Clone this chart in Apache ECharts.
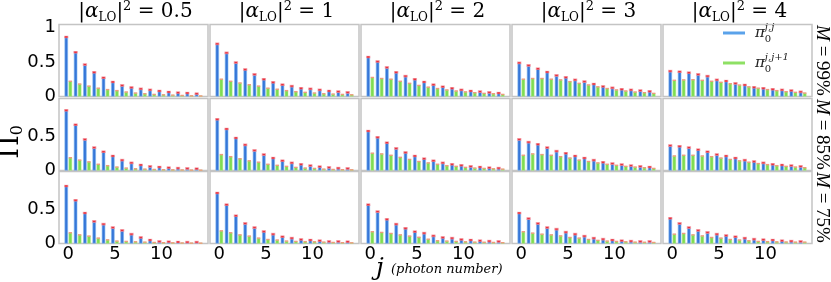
<!DOCTYPE html>
<html><head><meta charset="utf-8">
<script src="https://cdn.jsdelivr.net/npm/echarts@6/dist/echarts.min.js"></script>
<style>html,body{margin:0;padding:0;background:#fff}#c{width:831px;height:282px}</style>
</head><body><div id="c"></div>
<script>
// ---- data ----
const photonNumbers = [0,1,2,3,4,5,6,7,8,9,10,11,12,13,14];
const xTickLabels = [0,5,10];
const yTickLabelsTop = [0,0.5,1];
const yTickLabelsOther = [0,0.5];
const alphaLO = ['0.5','1','2','3','4'];
const fidelityM = ['99%','85%','75%'];

// M = 99%
const jj_M99_a05 = [0.86,0.64,0.46,0.35,0.27,0.21,0.16,0.13,0.11,0.095,0.08,0.065,0.055,0.05,0.04];
const jj1_M99_a05 = [0.22,0.18,0.15,0.12,0.10,0.085,0.065,0.05,0.04,0.03,0.025,0.02,0.015,0.01,0.008];
const jj_M99_a1 = [0.76,0.63,0.49,0.39,0.32,0.25,0.205,0.17,0.15,0.12,0.11,0.095,0.08,0.07,0.06];
const jj1_M99_a1 = [0.25,0.22,0.195,0.17,0.15,0.12,0.105,0.085,0.07,0.06,0.05,0.04,0.035,0.03,0.025];
const jj_M99_a2 = [0.57,0.505,0.42,0.35,0.295,0.25,0.21,0.17,0.14,0.12,0.095,0.08,0.07,0.06,0.05];
const jj1_M99_a2 = [0.275,0.26,0.25,0.22,0.19,0.16,0.135,0.115,0.095,0.08,0.067,0.055,0.045,0.04,0.03];
const jj_M99_a3 = [0.485,0.45,0.40,0.353,0.305,0.277,0.24,0.215,0.18,0.145,0.125,0.105,0.095,0.085,0.075];
const jj1_M99_a3 = [0.25,0.26,0.26,0.25,0.24,0.215,0.19,0.167,0.14,0.115,0.095,0.08,0.065,0.055,0.045];
const jj_M99_a4 = [0.367,0.357,0.343,0.32,0.295,0.24,0.224,0.19,0.167,0.134,0.12,0.105,0.095,0.086,0.067];
const jj1_M99_a4 = [0.234,0.24,0.243,0.234,0.22,0.205,0.185,0.165,0.14,0.12,0.10,0.085,0.07,0.06,0.05];
// M = 85%
const jj_M85_a05 = [0.87,0.66,0.45,0.33,0.27,0.21,0.15,0.11,0.08,0.06,0.05,0.04,0.035,0.03,0.025];
const jj1_M85_a05 = [0.185,0.15,0.125,0.09,0.07,0.05,0.035,0.025,0.02,0.015,0.012,0.01,0.008,0.006,0.005];
const jj_M85_a1 = [0.74,0.60,0.47,0.37,0.29,0.23,0.18,0.14,0.11,0.09,0.07,0.055,0.045,0.035,0.03];
const jj1_M85_a1 = [0.23,0.20,0.17,0.14,0.12,0.09,0.075,0.06,0.045,0.035,0.03,0.02,0.015,0.012,0.01];
const jj_M85_a2 = [0.57,0.48,0.40,0.32,0.26,0.21,0.17,0.14,0.11,0.09,0.075,0.06,0.05,0.04,0.035];
const jj1_M85_a2 = [0.25,0.24,0.22,0.19,0.16,0.13,0.11,0.09,0.07,0.06,0.045,0.035,0.03,0.025,0.02];
const jj_M85_a3 = [0.45,0.41,0.38,0.33,0.28,0.25,0.21,0.18,0.15,0.12,0.10,0.085,0.07,0.06,0.05];
const jj1_M85_a3 = [0.22,0.24,0.23,0.22,0.20,0.18,0.15,0.13,0.11,0.09,0.075,0.06,0.05,0.04,0.03];
const jj_M85_a4 = [0.36,0.35,0.33,0.30,0.27,0.23,0.21,0.18,0.15,0.13,0.11,0.09,0.08,0.07,0.06];
const jj1_M85_a4 = [0.21,0.22,0.22,0.21,0.20,0.18,0.16,0.14,0.12,0.10,0.085,0.07,0.06,0.05,0.04];
// M = 75%
const jj_M75_a05 = [0.83,0.625,0.44,0.32,0.28,0.23,0.19,0.135,0.087,0.05,0.03,0.025,0.022,0.02,0.02];
const jj1_M75_a05 = [0.155,0.125,0.107,0.078,0.053,0.035,0.03,0.025,0.02,0.015,0.012,0.01,0.008,0.006,0.005];
const jj_M75_a1 = [0.73,0.56,0.40,0.29,0.23,0.173,0.135,0.097,0.078,0.058,0.05,0.04,0.03,0.03,0.025];
const jj1_M75_a1 = [0.183,0.155,0.125,0.107,0.078,0.058,0.05,0.035,0.03,0.027,0.025,0.02,0.015,0.012,0.01];
const jj_M75_a2 = [0.56,0.46,0.35,0.28,0.22,0.17,0.15,0.11,0.087,0.078,0.058,0.05,0.04,0.035,0.03];
const jj1_M75_a2 = [0.17,0.16,0.145,0.125,0.107,0.09,0.062,0.04,0.035,0.03,0.025,0.02,0.018,0.015,0.012];
const jj_M75_a3 = [0.44,0.36,0.29,0.23,0.207,0.164,0.135,0.107,0.078,0.063,0.05,0.04,0.035,0.03,0.03];
const jj1_M75_a3 = [0.17,0.15,0.135,0.125,0.11,0.087,0.078,0.058,0.045,0.035,0.03,0.025,0.02,0.018,0.015];
const jj_M75_a4 = [0.365,0.29,0.23,0.19,0.16,0.135,0.115,0.097,0.078,0.063,0.055,0.05,0.04,0.035,0.03];
const jj1_M75_a4 = [0.135,0.145,0.125,0.11,0.087,0.078,0.058,0.05,0.04,0.03,0.027,0.024,0.022,0.02,0.02];

const jjPanels = [
  [jj_M99_a05, jj_M99_a1, jj_M99_a2, jj_M99_a3, jj_M99_a4],
  [jj_M85_a05, jj_M85_a1, jj_M85_a2, jj_M85_a3, jj_M85_a4],
  [jj_M75_a05, jj_M75_a1, jj_M75_a2, jj_M75_a3, jj_M75_a4]
];
const jj1Panels = [
  [jj1_M99_a05, jj1_M99_a1, jj1_M99_a2, jj1_M99_a3, jj1_M99_a4],
  [jj1_M85_a05, jj1_M85_a1, jj1_M85_a2, jj1_M85_a3, jj1_M85_a4],
  [jj1_M75_a05, jj1_M75_a1, jj1_M75_a2, jj1_M75_a3, jj1_M75_a4]
];

// ---- layout ----
const colLeft = [59, 210, 361, 512, 663];
const panelW = 149;
const rowTop = [24.5, 98.5, 171.5];
const panelH = 72;
const BAR_W = 3.4;
const HALF_OFF = 2.05;
const SERIF = '"DejaVu Serif", "Liberation Serif", serif';
const TIMES = '"Liberation Serif", "DejaVu Serif", serif';
const SANS = '"DejaVu Sans", sans-serif';

const grids = [], xAxes = [], yAxes = [], series = [];
let idx = 0;
for (let r = 0; r < 3; r++) {
  for (let c = 0; c < 5; c++) {
    grids.push({left: colLeft[c], top: rowTop[r], width: panelW, height: panelH,
      show: true, borderColor: '#c4c4c4', borderWidth: 1.5, backgroundColor: '#fff',
      containLabel: false, outerBoundsMode: 'none'});
    xAxes.push({type: 'value', gridIndex: idx, min: -1, max: 15, interval: 1,
      axisLine: {show: false}, axisTick: {show: false}, splitLine: {show: false},
      axisLabel: {show: r === 2, margin: 2, fontSize: 18, color: '#000', fontFamily: SANS,
        formatter: v => xTickLabels.includes(v) ? String(v) : ''}});
    const yl = r === 0 ? yTickLabelsTop : yTickLabelsOther;
    yAxes.push({type: 'value', gridIndex: idx, min: 0, max: 1.04, interval: 0.5,
      axisLine: {show: false}, axisTick: {show: false}, splitLine: {show: false},
      axisLabel: {show: c === 0, margin: 3, fontSize: 18, color: '#000', fontFamily: SANS,
        showMaxLabel: false,
        formatter: v => yl.includes(v) ? String(v) : ''}});
    const jj = jjPanels[r][c], jj1 = jj1Panels[r][c];
    const common = {xAxisIndex: idx, yAxisIndex: idx, silent: true, animation: false};
    series.push(Object.assign({}, common, {type: 'bar', name: 'jj', barWidth: BAR_W, barGap: '20%',
      data: photonNumbers.map((j, k) => [j, jj[k]]),
      itemStyle: {color: '#3676d8', borderColor: '#7ab3ef', borderWidth: 0.6}}));
    series.push(Object.assign({}, common, {type: 'bar', name: 'jj1', barWidth: BAR_W, barGap: '20%',
      data: photonNumbers.map((j, k) => [j, jj1[k]]),
      itemStyle: {color: '#80dc52', borderColor: '#a6ea80', borderWidth: 0.5}}));
    series.push(Object.assign({}, common, {type: 'scatter', name: 'capB', symbol: 'rect',
      symbolSize: [3.4, 2], symbolOffset: [-HALF_OFF, 0], z: 5,
      data: photonNumbers.map((j, k) => [j, jj[k]]),
      itemStyle: {color: '#e8333f', borderColor: 'rgba(245,160,170,0.7)', borderWidth: 0.6, opacity: 1}}));
    series.push(Object.assign({}, common, {type: 'scatter', name: 'capG', symbol: 'rect',
      symbolSize: [3.4, 1.4], symbolOffset: [HALF_OFF, 0], z: 5,
      data: photonNumbers.map((j, k) => [j, jj1[k]]),
      itemStyle: {color: '#ee9a7c', opacity: 1}}));
    idx++;
  }
}

const graphics = [];
// column titles
for (let c = 0; c < 5; c++) {
  graphics.push({type: 'text', x: colLeft[c] + panelW / 2 + 2, y: 0, silent: true,
    style: {text: '{b||}{a|α}{s|LO}{b||}{p|2}{b| = ' + alphaLO[c] + '}', align: 'center', verticalAlign: 'top',
      rich: {
        b: {fontFamily: SERIF, fontSize: 20, lineHeight: 24, fill: '#000'},
        a: {fontFamily: SERIF, fontSize: 20, fontStyle: 'italic', lineHeight: 24, fill: '#000'},
        s: {fontFamily: SERIF, fontSize: 12, lineHeight: 8, verticalAlign: 'bottom', fill: '#000'},
        p: {fontFamily: SERIF, fontSize: 13, lineHeight: 14, verticalAlign: 'top', fill: '#000'}
      }}});
}
// row labels
for (let r = 0; r < 3; r++) {
  graphics.push({type: 'text', x: 822, y: rowTop[r] + panelH / 2, rotation: -Math.PI / 2, silent: true,
    style: {text: '{m|M}{t| = ' + fidelityM[r] + '}', align: 'center', verticalAlign: 'middle',
      rich: {
        m: {fontFamily: TIMES, fontSize: 19, fontStyle: 'italic', fill: '#000'},
        t: {fontFamily: TIMES, fontSize: 19, fill: '#000'}
      }}});
}
// y-axis title
graphics.push({type: 'text', x: 11, y: 142, rotation: Math.PI / 2, silent: true,
  style: {text: '{p|Π}{s|0}', align: 'center', verticalAlign: 'middle',
    rich: {
      p: {fontFamily: SERIF, fontSize: 27, lineHeight: 30, fill: '#000'},
      s: {fontFamily: SERIF, fontSize: 16, lineHeight: 14, verticalAlign: 'bottom', fill: '#000'}
    }}});
// x-axis title
graphics.push({type: 'text', x: 380, y: 268, silent: true,
  style: {text: 'j', align: 'center', verticalAlign: 'middle', font: 'italic 25px ' + SERIF, fill: '#000'}});
graphics.push({type: 'text', x: 391, y: 270, silent: true,
  style: {text: '(photon number)', align: 'left', verticalAlign: 'middle', font: 'italic 13px ' + SERIF, fill: '#000'}});

const legendRich = {
  p: {fontFamily: SERIF, fontSize: 15, fontStyle: 'italic', lineHeight: 22, color: '#222', padding: [0, 0, 0, 5]},
  b: {fontFamily: SERIF, fontSize: 10, lineHeight: 10, verticalAlign: 'bottom', color: '#222', width: 0},
  t: {fontFamily: SERIF, fontSize: 10, fontStyle: 'italic', lineHeight: 13, verticalAlign: 'top', color: '#222'}
};

const chart = echarts.init(document.getElementById('c'), null, {renderer: 'canvas'});
chart.setOption({
  animation: false,
  backgroundColor: '#fff',
  grid: grids, xAxis: xAxes, yAxis: yAxes, series: series,
  legend: {orient: 'vertical', left: 723, top: 22, itemWidth: 22, itemHeight: 3, itemGap: 8,
    icon: 'rect', selectedMode: false, padding: 0,
    data: [{name: 'jj', itemStyle: {color: '#5aa2ea', borderWidth: 0}}, {name: 'jj1', itemStyle: {color: '#8ee064', borderWidth: 0}}],
    formatter: n => n === 'jj' ? '{p|π}{b|0}{t|j,j}' : '{p|π}{b|0}{t|j,j+1}',
    textStyle: {rich: legendRich}},
  graphic: graphics
});
</script></body></html>
